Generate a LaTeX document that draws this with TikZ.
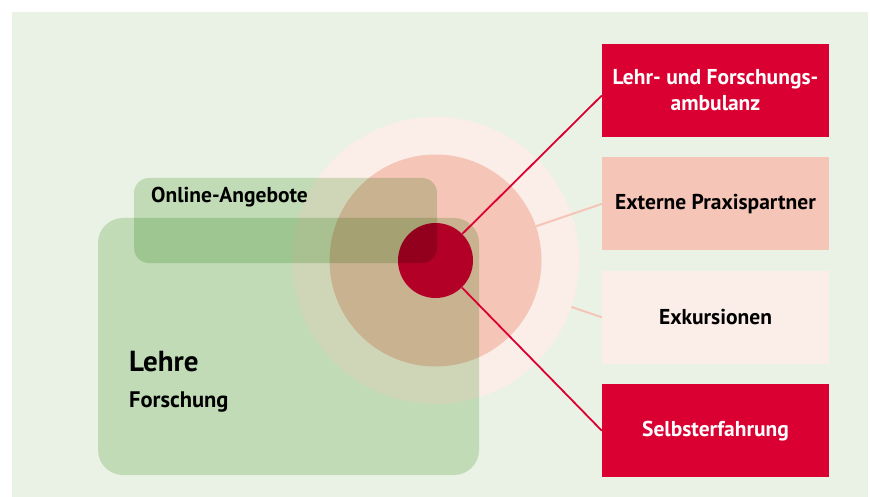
\documentclass[tikz,border=0pt]{standalone}
\usepackage{fontspec}
\setmainfont{PT Sans}
\usetikzlibrary{positioning}
\definecolor{grund}{HTML}{EAF2E6}
\definecolor{gruen}{HTML}{D2E7CA}
\definecolor{rot}{HTML}{DA0032}
\definecolor{rosa}{HTML}{F5C5B7}
\definecolor{hellrosa}{HTML}{FBEDE8}

\begin{document}
\begin{tikzpicture}
  [x=1pt, y=-1pt, node distance=20pt,
   every node/.style={inner sep=0pt, font=\bfseries\fontsize{21.5}{26}\selectfont},
   feld/.style={minimum width=227pt, minimum height=93pt, align=center},
   ring/.style={circle, minimum size=#1},
   redline/.style={draw=rot, line width=1.8pt},
   pinkline/.style={draw=rosa, line width=2pt}]
 \useasboundingbox (0,0) rectangle (870,497);
 \fill[grund] (12,12) rectangle (868,497);
 % Kreise
 \node[ring=287pt, fill=hellrosa] (aussen) at (435.5,260.5) {};
 \node[ring=212pt, fill=rosa] (mitte) at (aussen.center) {};
 \node[ring=75pt, fill=rot] (kern) at (aussen.center) {};
 % Felder, multipliziert
 \begin{scope}[blend mode=multiply]
  \node[fill=gruen, rounded corners=25pt, minimum width=381pt, minimum height=257pt] (lehre) at (288.5,346.5) {};
  \node[fill=gruen, rounded corners=15pt, minimum width=303pt, minimum height=85pt] (online) at (285.5,220.5) {};
 \end{scope}
 \node[anchor=base west] (onlinetext) at (151,203) {Online-Angebote};
 \node[anchor=base west, font=\bfseries\fontsize{29}{36}\selectfont] (lehretext) at (129,371) {Lehre};
 \node[anchor=base west, font=\bfseries\fontsize{22.5}{28}\selectfont] (forschtext) at (129,407) {Forschung};
 % rechte Spalte
 \node[feld, fill=rot, text=white] (amb) at (715.5,90.5) {Lehr- und Forschungs-\\ambulanz};
 \node[feld, fill=rosa, below=of amb] (praxis) {Externe Praxispartner};
 \node[feld, fill=hellrosa, below=of praxis] (exkursion) {Exkursionen};
 \node[feld, fill=rot, text=white, below=of exkursion] (selbst) {Selbsterfahrung};
 \draw[redline] (kern) -- ([yshift=-5pt]amb.west);
 \draw[redline] (kern) -- (selbst.west);
 \draw[pinkline] (mitte) -- (praxis.west);
 \draw[pinkline] (aussen) -- (exkursion.west);
\end{tikzpicture}
\end{document}
